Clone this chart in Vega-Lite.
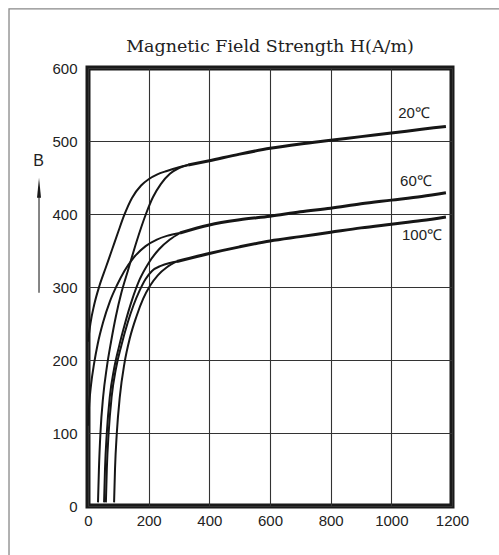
{
  "$schema": "https://vega.github.io/schema/vega-lite/v6.json",
  "width": 364,
  "height": 438,
  "autosize": {"type": "none"},
  "padding": {"left": 88, "top": 68, "right": 47, "bottom": 49},
  "background": "white",
  "title": {
    "text": "Magnetic Field Strength H(A/m)",
    "font": "DejaVu Serif",
    "fontSize": 17.5,
    "fontWeight": "normal",
    "color": "#222222",
    "anchor": "middle",
    "offset": 4,
    "dy": 53
  },
  "config": {
    "view": {"stroke": "#1a1a1a", "strokeWidth": 5},
    "axis": {
      "grid": true,
      "gridColor": "#333333",
      "gridWidth": 1.1,
      "domain": false,
      "ticks": false,
      "tickSize": 0,
      "labelFont": "Liberation Sans",
      "labelFontSize": 15,
      "labelColor": "#222222",
      "format": "d"
    },
    "axisX": {"labelPadding": 7, "labelFlush": false},
    "axisY": {"labelPadding": 11}
  },
  "datasets": {
    "branches": [
      {"curve": "20A", "H": 0, "B": 225}, {"curve": "20A", "H": 8, "B": 250}, {"curve": "20A", "H": 20, "B": 275},
      {"curve": "20A", "H": 38, "B": 302}, {"curve": "20A", "H": 59, "B": 327}, {"curve": "20A", "H": 80, "B": 352},
      {"curve": "20A", "H": 100, "B": 376}, {"curve": "20A", "H": 119, "B": 398}, {"curve": "20A", "H": 145, "B": 422},
      {"curve": "20A", "H": 175, "B": 439}, {"curve": "20A", "H": 201, "B": 448}, {"curve": "20A", "H": 227, "B": 454},
      {"curve": "20A", "H": 260, "B": 459}, {"curve": "20A", "H": 300, "B": 464}, {"curve": "20A", "H": 330, "B": 467},

      {"curve": "20B", "H": 33, "B": 5}, {"curve": "20B", "H": 36, "B": 50}, {"curve": "20B", "H": 41, "B": 100},
      {"curve": "20B", "H": 50, "B": 150}, {"curve": "20B", "H": 62, "B": 190}, {"curve": "20B", "H": 76, "B": 225},
      {"curve": "20B", "H": 92, "B": 260}, {"curve": "20B", "H": 110, "B": 292}, {"curve": "20B", "H": 132, "B": 323},
      {"curve": "20B", "H": 160, "B": 362}, {"curve": "20B", "H": 191, "B": 400}, {"curve": "20B", "H": 214, "B": 423},
      {"curve": "20B", "H": 240, "B": 441}, {"curve": "20B", "H": 270, "B": 455}, {"curve": "20B", "H": 300, "B": 463},
      {"curve": "20B", "H": 330, "B": 467},

      {"curve": "60A", "H": 0, "B": 110}, {"curve": "60A", "H": 4, "B": 140}, {"curve": "60A", "H": 10, "B": 166},
      {"curve": "60A", "H": 20, "B": 195}, {"curve": "60A", "H": 32, "B": 222}, {"curve": "60A", "H": 50, "B": 252},
      {"curve": "60A", "H": 72, "B": 280}, {"curve": "60A", "H": 95, "B": 302}, {"curve": "60A", "H": 120, "B": 322},
      {"curve": "60A", "H": 150, "B": 340}, {"curve": "60A", "H": 190, "B": 356}, {"curve": "60A", "H": 227, "B": 365},
      {"curve": "60A", "H": 260, "B": 370}, {"curve": "60A", "H": 303, "B": 374},

      {"curve": "60B", "H": 53, "B": 5}, {"curve": "60B", "H": 56, "B": 50}, {"curve": "60B", "H": 62, "B": 100},
      {"curve": "60B", "H": 72, "B": 150}, {"curve": "60B", "H": 86, "B": 188}, {"curve": "60B", "H": 102, "B": 218},
      {"curve": "60B", "H": 122, "B": 250}, {"curve": "60B", "H": 145, "B": 282}, {"curve": "60B", "H": 170, "B": 310},
      {"curve": "60B", "H": 200, "B": 333}, {"curve": "60B", "H": 235, "B": 352}, {"curve": "60B", "H": 270, "B": 365},
      {"curve": "60B", "H": 303, "B": 374},

      {"curve": "100A", "H": 59, "B": 5}, {"curve": "100A", "H": 62, "B": 50}, {"curve": "100A", "H": 68, "B": 100},
      {"curve": "100A", "H": 78, "B": 150}, {"curve": "100A", "H": 92, "B": 188}, {"curve": "100A", "H": 110, "B": 220},
      {"curve": "100A", "H": 130, "B": 250}, {"curve": "100A", "H": 150, "B": 275}, {"curve": "100A", "H": 170, "B": 295},
      {"curve": "100A", "H": 190, "B": 311}, {"curve": "100A", "H": 211, "B": 322}, {"curve": "100A", "H": 240, "B": 329},
      {"curve": "100A", "H": 270, "B": 333}, {"curve": "100A", "H": 293, "B": 335},

      {"curve": "100B", "H": 86, "B": 5}, {"curve": "100B", "H": 89, "B": 50}, {"curve": "100B", "H": 95, "B": 100},
      {"curve": "100B", "H": 105, "B": 150}, {"curve": "100B", "H": 120, "B": 195}, {"curve": "100B", "H": 138, "B": 230},
      {"curve": "100B", "H": 160, "B": 260}, {"curve": "100B", "H": 182, "B": 284}, {"curve": "100B", "H": 205, "B": 302},
      {"curve": "100B", "H": 230, "B": 316}, {"curve": "100B", "H": 260, "B": 327}, {"curve": "100B", "H": 293, "B": 335}
    ],
    "tails": [
      {"curve": "20", "H": 330, "B": 467}, {"curve": "20", "H": 400, "B": 473}, {"curve": "20", "H": 500, "B": 482},
      {"curve": "20", "H": 600, "B": 490}, {"curve": "20", "H": 700, "B": 496}, {"curve": "20", "H": 800, "B": 501},
      {"curve": "20", "H": 900, "B": 506}, {"curve": "20", "H": 1000, "B": 511}, {"curve": "20", "H": 1100, "B": 516},
      {"curve": "20", "H": 1180, "B": 520},

      {"curve": "60", "H": 303, "B": 374}, {"curve": "60", "H": 400, "B": 385}, {"curve": "60", "H": 500, "B": 392},
      {"curve": "60", "H": 600, "B": 397}, {"curve": "60", "H": 700, "B": 403}, {"curve": "60", "H": 800, "B": 408},
      {"curve": "60", "H": 900, "B": 414}, {"curve": "60", "H": 1000, "B": 419}, {"curve": "60", "H": 1100, "B": 424},
      {"curve": "60", "H": 1180, "B": 429},

      {"curve": "100", "H": 293, "B": 335}, {"curve": "100", "H": 400, "B": 346}, {"curve": "100", "H": 500, "B": 355},
      {"curve": "100", "H": 600, "B": 363}, {"curve": "100", "H": 700, "B": 369}, {"curve": "100", "H": 800, "B": 375},
      {"curve": "100", "H": 900, "B": 381}, {"curve": "100", "H": 1000, "B": 386}, {"curve": "100", "H": 1100, "B": 391},
      {"curve": "100", "H": 1180, "B": 396}
    ],
    "labels": [
      {"label": "20℃", "H": 1075, "B": 538},
      {"label": "60℃", "H": 1081, "B": 445},
      {"label": "100℃", "H": 1101, "B": 371}
    ],
    "frame": [
      {"H": -260.4, "B": -100},
      {"H": -260.4, "B": 681},
      {"H": 1400, "B": 681}
    ],
    "arrow": [
      {"H": -161.5, "B": 292},
      {"H": -161.5, "B": 436}
    ]
  },
  "layer": [
    {
      "description": "outer frame: left and top edges",
      "data": {"name": "frame"},
      "mark": {"type": "line", "color": "#888888", "strokeWidth": 1.3, "clip": false},
      "encoding": {
        "x": {"field": "H", "type": "quantitative", "scale": {"domain": [0, 1200], "nice": false, "zero": false}},
        "y": {"field": "B", "type": "quantitative", "scale": {"domain": [0, 600], "nice": false, "zero": false}},
        "order": {"field": "H"}
      }
    },
    {
      "description": "arrow shaft beside the B label",
      "data": {"name": "arrow"},
      "mark": {"type": "line", "color": "#444444", "strokeWidth": 1.3, "clip": false},
      "encoding": {
        "x": {"field": "H", "type": "quantitative"},
        "y": {"field": "B", "type": "quantitative"}
      }
    },
    {
      "description": "arrow head",
      "data": {"name": "arrow"},
      "transform": [{"filter": "datum.B > 400"}],
      "mark": {"type": "point", "shape": "M0,-1L0.2,1L-0.2,1Z", "filled": true, "color": "#1a1a1a", "size": 400, "opacity": 1, "clip": false},
      "encoding": {
        "x": {"field": "H", "type": "quantitative"},
        "y": {"field": "B", "type": "quantitative"}
      }
    },
    {
      "data": {"name": "branches"},
      "mark": {"type": "line", "interpolate": "monotone", "color": "#161616", "strokeWidth": 2},
      "encoding": {
        "x": {
          "field": "H",
          "type": "quantitative",
          "axis": {"title": null, "values": [0, 200, 400, 600, 800, 1000, 1200]}
        },
        "y": {
          "field": "B",
          "type": "quantitative",
          "axis": {
            "values": [0, 100, 200, 300, 400, 500, 600],
            "title": "B",
            "titleAngle": 0,
            "titleX": -50,
            "titleY": 92,
            "titleAlign": "center",
            "titleBaseline": "middle",
            "titleFont": "Liberation Sans",
            "titleFontSize": 16,
            "titleFontWeight": "normal",
            "titleColor": "#222222"
          }
        },
        "detail": {"field": "curve"}
      }
    },
    {
      "data": {"name": "tails"},
      "mark": {"type": "line", "interpolate": "monotone", "color": "#161616", "strokeWidth": 3},
      "encoding": {
        "x": {"field": "H", "type": "quantitative"},
        "y": {"field": "B", "type": "quantitative"},
        "detail": {"field": "curve"}
      }
    },
    {
      "data": {"name": "labels"},
      "mark": {"type": "text", "font": "Liberation Sans", "fontSize": 15, "color": "#222222", "align": "center", "baseline": "middle"},
      "encoding": {
        "x": {"field": "H", "type": "quantitative"},
        "y": {"field": "B", "type": "quantitative"},
        "text": {"field": "label"}
      }
    }
  ]
}
